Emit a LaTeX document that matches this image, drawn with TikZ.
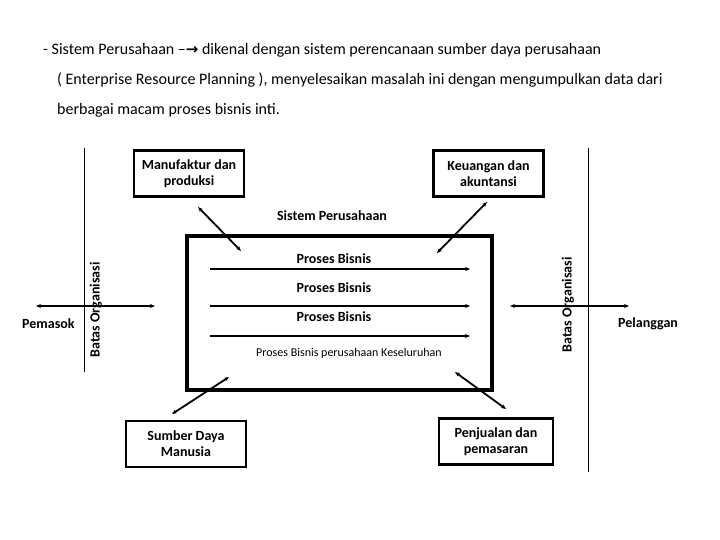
\documentclass[tikz,border=0pt]{standalone}
\usepackage{fontspec}
\setmainfont{Carlito}
\usetikzlibrary{arrows.meta}
\begin{document}
\begin{tikzpicture}[x=1pt,y=-1pt,
  titletxt/.style={anchor=west,inner sep=0pt,font=\fontsize{16}{18}\selectfont},
  unitbox/.style={draw,line width=2.6pt,minimum width=110pt,minimum height=46pt,align=center,font=\fontsize{14}{16}\selectfont\bfseries,inner sep=2pt},
  lbl/.style={inner sep=0pt,font=\fontsize{14}{16}\selectfont\bfseries},
  flow/.style={line width=1.6pt,-{Stealth[length=5pt,width=4pt]}},
  link/.style={line width=1.8pt,{Stealth[length=5pt,width=4pt]}-{Stealth[length=5pt,width=4pt]}},
  border/.style={line width=0.8pt}]
\useasboundingbox (0,0) rectangle (720,540);
% title
\node[titletxt] (t1) at (43,50) {- Sistem Perusahaan --{\fontspec{DejaVu Sans}\bfseries\fontsize{15}{17}\selectfont →} dikenal dengan sistem perencanaan sumber daya perusahaan};
\node[titletxt] (t2) at (57,80) {( Enterprise Resource Planning ), menyelesaikan masalah ini dengan mengumpulkan data dari};
\node[titletxt] (t3) at (57,110) {berbagai macam proses bisnis inti.};
% organisational boundaries
\coordinate (bl1) at (84,148); \coordinate (bl2) at (84,372);
\coordinate (br1) at (588,148); \coordinate (br2) at (588,472);
\draw[border] (bl1) -- (bl2);
\draw[border] (br1) -- (br2);
\node[lbl,rotate=90] (bol) at (96,310) {Batas Organisasi};
\node[lbl,rotate=90] (bor) at (568,305) {Batas Organisasi};
% main box
\node[draw,line width=3.5pt,minimum width=305pt,minimum height=154pt,inner sep=0pt] (main) at (339.5,313) {};
\node[lbl] (sp) at (332,216) {Sistem Perusahaan};
% process lines
\coordinate (p1a) at (210,269); \coordinate (p1b) at (470,269);
\coordinate (p2a) at (210,306); \coordinate (p2b) at (470,306);
\coordinate (p3a) at (210,336); \coordinate (p3b) at (470,336);
\draw[flow] (p1a) -- (p1b);
\draw[flow] (p2a) -- (p2b);
\draw[flow] (p3a) -- (p3b);
\node[lbl] (pb1) at (334,259) {Proses Bisnis};
\node[lbl] (pb2) at (334,288) {Proses Bisnis};
\node[lbl] (pb3) at (334,317) {Proses Bisnis};
\node[inner sep=0pt,font=\fontsize{12}{14}\selectfont] (pbk) at (349,353) {Proses Bisnis perusahaan Keseluruhan};
% functional units
\node[unitbox] (manu) at (189,173.5) {Manufaktur dan\\produksi};
\node[unitbox] (keu) at (488.5,173.5) {Keuangan dan\\akuntansi};
\node[unitbox,minimum width=120pt] (sdm) at (186,444) {Sumber Daya\\Manusia};
\node[unitbox,minimum width=114pt] (pen) at (496,441.5) {Penjualan dan\\pemasaran};
% connectors
\coordinate (m1) at (198,207); \coordinate (m2) at (241,251);
\coordinate (k1) at (487,202); \coordinate (k2) at (437,253);
\coordinate (s1) at (172,414); \coordinate (s2) at (229,377);
\coordinate (j1) at (455,372); \coordinate (j2) at (506,409);
\draw[link] (m1) -- (m2);
\draw[link] (k1) -- (k2);
\draw[link] (s1) -- (s2);
\draw[link] (j1) -- (j2);
% supplier / customer
\coordinate (pl1) at (36,306); \coordinate (pl2) at (155,306);
\coordinate (pr1) at (510,306); \coordinate (pr2) at (629,306);
\draw[link,line width=1.6pt] (pl1) -- (pl2);
\draw[link,line width=1.6pt] (pr1) -- (pr2);
\node[lbl,anchor=west] (pem) at (22,324) {Pemasok};
\node[lbl,anchor=west] (pel) at (618,324) {Pelanggan};
\end{tikzpicture}
\end{document}
